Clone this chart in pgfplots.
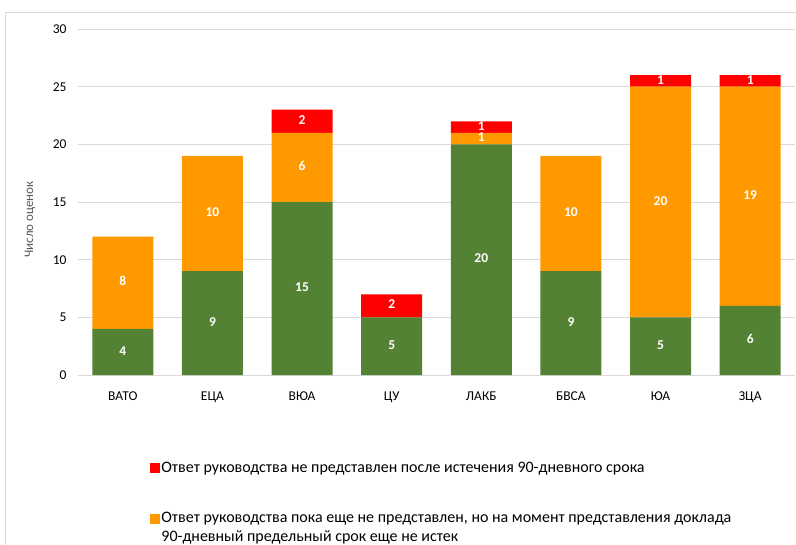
\documentclass[border=0pt]{standalone}
\usepackage{pgfplots}
\pgfplotsset{compat=1.18}
\usepackage{pgfplotstable}
\usepackage{fontspec}
\setmainfont{Carlito}
\definecolor{cgreen}{HTML}{548235}
\definecolor{corange}{HTML}{FF9900}
\definecolor{cred}{HTML}{FF0000}
\definecolor{cgrid}{HTML}{D9D9D9}
\definecolor{clabel}{HTML}{595959}

\pgfplotstableread{
x y lab
0 4 4
1 9 9
2 15 15
3 5 5
4 20 20
5 9 9
6 5 5
7 6 6
}\greendata
\pgfplotstableread{
x y lab
0 8 8
1 10 10
2 6 6
3 0 {}
4 1 1
5 10 10
6 20 20
7 19 19
}\orangedata
\pgfplotstableread{
x y lab
0 0 {}
1 0 {}
2 2 2
3 2 2
4 1 1
5 0 {}
6 1 1
7 1 1
}\reddata

\pgfplotsset{segstyle/.style={
  draw=none, forget plot,
  nodes near coords,
  point meta=explicit symbolic,
  every node near coord/.append style={anchor=center, text=white, inner sep=0bp, text height=0.64em, text depth=0pt, font=\bfseries\fontsize{13.5bp}{15bp}\selectfont},
}}

\begin{document}
\begin{tikzpicture}
\useasboundingbox (0,0) rectangle (796bp,-545bp);
\draw[cgrid, line width=0.8bp] (5bp,-545bp) -- (5bp,-12bp) -- (796bp,-12bp);
\begin{axis}[
  at={(78bp,-375bp)}, anchor=south west,
  scale only axis, width=717bp, height=346bp,
  ybar stacked, bar width=61bp,
  xmin=-0.5, xmax=7.5, ymin=0, ymax=30,
  xtick={0,...,7},
  xticklabels={ВАТО,ЕЦА,ВЮА,ЦУ,ЛАКБ,БВСА,ЮА,ЗЦА},
  ytick={0,5,...,30},
  axis x line*=bottom, axis y line*=left,
  x axis line style={draw=cgrid, line width=0.8bp, -},
  y axis line style={draw=none},
  major tick length=0pt,
  ymajorgrids, grid style={cgrid, line width=0.8bp},
  /pgf/number format/assume math mode=true,
  tick label style={font=\fontsize{13.5bp}{15bp}\selectfont, text=black},
  yticklabel style={xshift=-8bp},
  xticklabel style={yshift=-13bp},
  ylabel={Число оценок},
  ylabel style={font=\fontsize{13bp}{15bp}\selectfont, text=clabel, at={(axis description cs:-0.067,0.45)}, anchor=center},
  legend cell align=left,
  legend style={at={(axis description cs:0.096,-0.24)}, anchor=north west, draw=none, fill=none,
    font=\fontsize{16bp}{18bp}\selectfont, row sep=34.5bp, cells={align=left}},
]
\addplot[fill=cgreen, segstyle] table[x=x, y=y, meta=lab] {\greendata};
\addplot[fill=corange, segstyle] table[x=x, y=y, meta=lab] {\orangedata};
\addplot[fill=cred, segstyle] table[x=x, y=y, meta=lab] {\reddata};
\addlegendimage{legend image code/.code={\fill[cred] (0bp,-4.5bp) rectangle (9bp,4.5bp);}}
\addlegendentry{Ответ руководства не представлен после истечения 90-дневного срока}
\addlegendimage{legend image code/.code={\fill[corange] (0bp,5bp) rectangle (9bp,14bp);}}
\addlegendentry{Ответ руководства пока еще не представлен, но на момент представления доклада\\[1bp]90-дневный предельный срок еще не истек}
\end{axis}
\end{tikzpicture}
\end{document}
